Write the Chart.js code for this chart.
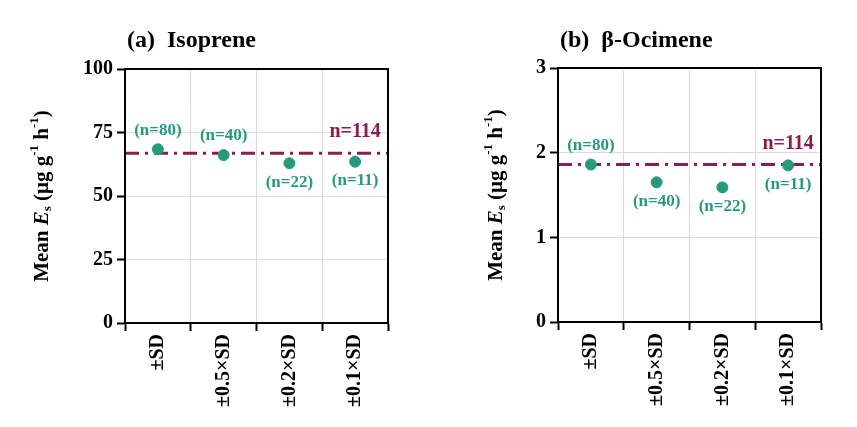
<!DOCTYPE html>
<html lang="en">
<head>
  <meta charset="UTF-8">
  <title>Mean Es by SD window</title>
  <script src="https://cdn.jsdelivr.net/npm/chart.js"></script>
  <style>
    body { margin: 0; background: #fff; }
    .wrap { display: flex; width: 857px; height: 427px; }
    .panel { position: relative; height: 427px; }
  </style>
</head>
<body>
  <div class="wrap">
    <div class="panel" style="width:428px"><canvas id="isoChart"></canvas></div>
    <div class="panel" style="width:429px"><canvas id="ociChart"></canvas></div>
  </div>

  <script>
    const categories = ['±SD', '±0.5×SD', '±0.2×SD', '±0.1×SD'];
    const sampleSizes = [80, 40, 22, 11];
    const totalN = 114;

    const isopreneMeans = [68.4, 66.1, 62.9, 63.5];
    const isopreneAll = 66.8;
    const isopreneTicks = [0, 25, 50, 75, 100];
    const isopreneLabelSide = ['above', 'above', 'below', 'below'];

    const ocimeneMeans = [1.86, 1.65, 1.59, 1.85];
    const ocimeneAll = 1.86;
    const ocimeneTicks = [0, 1, 2, 3];
    const ocimeneLabelSide = ['above', 'below', 'below', 'below'];

    const TEAL = '#279a7e';
    const MAROON = '#8c1d4f';
    const SERIF = "'Liberation Serif', 'Times New Roman', serif";

    // draws title, y title, reference line, n labels and the box frame
    const decor = {
      id: 'decor',
      beforeDatasetsDraw(chart, args, opts) {
        const { ctx, chartArea: a, scales } = chart;
        const y = scales.y.getPixelForValue(opts.mean);
        ctx.save();
        ctx.strokeStyle = MAROON;
        ctx.lineWidth = 3;
        ctx.setLineDash([14, 6, 3, 6]);
        ctx.beginPath();
        ctx.moveTo(a.left, y);
        ctx.lineTo(a.right, y);
        ctx.stroke();
        ctx.restore();
      },
      afterDatasetsDraw(chart, args, opts) {
        const { ctx, scales } = chart;
        const meta = chart.getDatasetMeta(0);
        ctx.save();
        ctx.fillStyle = TEAL;
        ctx.font = 'bold 17px ' + SERIF;
        ctx.textAlign = 'center';
        ctx.textBaseline = 'middle';
        meta.data.forEach((pt, i) => {
          const dy = opts.sides[i] === 'above' ? -19 : 19;
          ctx.fillText('(n=' + sampleSizes[i] + ')', pt.x, pt.y + dy);
        });
        const lastX = scales.x.getPixelForValue(categories.length - 1);
        ctx.fillStyle = MAROON;
        ctx.font = 'bold 20px ' + SERIF;
        ctx.fillText('n=' + totalN, lastX, scales.y.getPixelForValue(opts.mean) - 21);
        ctx.restore();
      },
      afterDraw(chart, args, opts) {
        const { ctx, chartArea: a } = chart;
        ctx.save();
        ctx.strokeStyle = '#000';
        ctx.lineWidth = 2;
        ctx.strokeRect(a.left, a.top, a.right - a.left, a.bottom - a.top);

        // panel title
        ctx.fillStyle = '#000';
        ctx.font = 'bold 24px ' + SERIF;
        ctx.textAlign = 'left';
        ctx.textBaseline = 'alphabetic';
        ctx.fillText(opts.title, a.left + 2, 47);

        // y axis title with italic E and subscript s
        const parts = [
          ['Mean ', 'bold 21px', 0],
          ['E', 'italic bold 21px', 0],
          ['s', 'bold 13px', 5],
          [' (μg g', 'bold 21px', 0],
          ['-1', 'bold 13px', -8],
          [' h', 'bold 21px', 0],
          ['-1', 'bold 13px', -8],
          [')', 'bold 21px', 0]
        ];
        let total = 0;
        parts.forEach(p => { ctx.font = p[1] + ' ' + SERIF; total += ctx.measureText(p[0]).width; });
        ctx.translate(opts.titleX, (a.top + a.bottom) / 2);
        ctx.rotate(-Math.PI / 2);
        ctx.textBaseline = 'middle';
        let x = -total / 2;
        parts.forEach(p => {
          ctx.font = p[1] + ' ' + SERIF;
          ctx.fillText(p[0], x, p[2]);
          x += ctx.measureText(p[0]).width;
        });
        ctx.restore();
      }
    };

    function makeChart(id, values, ticks, opts) {
      const ctx = document.getElementById(id).getContext('2d');
      return new Chart(ctx, {
        type: 'line',
        data: {
          labels: categories,
          datasets: [{
            data: values,
            showLine: false,
            pointRadius: 5.5,
            pointHoverRadius: 5.5,
            pointBackgroundColor: TEAL,
            pointBorderColor: TEAL
          }]
        },
        options: {
          responsive: true,
          maintainAspectRatio: false,
          animation: false,
          layout: { padding: { top: opts.top, right: opts.right, left: 0, bottom: 0 } },
          plugins: {
            legend: { display: false },
            tooltip: { enabled: false },
            decor: opts
          },
          scales: {
            x: {
              offset: true,
              grid: { offset: true, color: '#dcdcdc', tickColor: '#000', tickLength: 8, lineWidth: 1, tickWidth: 2 },
              border: { color: '#000', width: 2 },
              ticks: {
                minRotation: 90, maxRotation: 90, padding: 3, color: '#000',
                font: { family: SERIF, size: 20, weight: 'bold' }
              },
              afterFit(scale) { scale.height = 427 - opts.bottom; }
            },
            y: {
              min: ticks[0],
              max: ticks[ticks.length - 1],
              afterBuildTicks(scale) { scale.ticks = ticks.map(v => ({ value: v })); },
              grid: { color: '#dcdcdc', tickColor: '#000', tickLength: 8, lineWidth: 1, tickWidth: 2 },
              border: { color: '#000', width: 2 },
              ticks: {
                padding: 4, color: '#000',
                font: { family: SERIF, size: 20, weight: 'bold' }
              },
              afterFit(scale) { scale.width = opts.left; }
            }
          }
        },
        plugins: [decor]
      });
    }

    makeChart('isoChart', isopreneMeans, isopreneTicks, {
      title: '(a)  Isoprene', mean: isopreneAll, sides: isopreneLabelSide,
      left: 125, right: 40, top: 69, bottom: 323, titleX: 43
    });
    makeChart('ociChart', ocimeneMeans, ocimeneTicks, {
      title: '(b)  β-Ocimene', mean: ocimeneAll, sides: ocimeneLabelSide,
      left: 130, right: 36, top: 68, bottom: 322, titleX: 69
    });
  </script>
</body>
</html>
